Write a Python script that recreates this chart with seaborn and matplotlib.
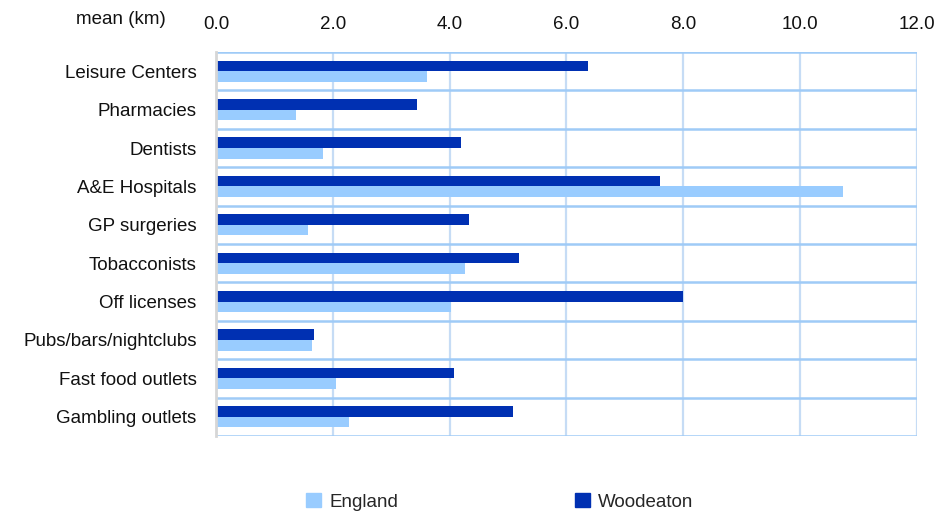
import matplotlib
matplotlib.use('Agg')

import matplotlib.pyplot as plt
import seaborn as sns
import pandas as pd
import numpy as np
from matplotlib.patches import Patch

# data
facilities = ["Leisure Centers", "Pharmacies", "Dentists", "A&E Hospitals", "GP surgeries",
              "Tobacconists", "Off licenses", "Pubs/bars/nightclubs", "Fast food outlets",
              "Gambling outlets"]
woodeaton = [6.37, 3.44, 4.19, 7.61, 4.33, 5.19, 8.00, 1.68, 4.07, 5.08]
england = [3.61, 1.37, 1.83, 10.74, 1.57, 4.26, 4.02, 1.65, 2.06, 2.27]
x_ticks = [0.0, 2.0, 4.0, 6.0, 8.0, 10.0, 12.0]

colors = {"Woodeaton": "#0030B2", "England": "#99CCFF"}

df = pd.DataFrame({
    "facility": facilities * 2,
    "km": woodeaton + england,
    "area": ["Woodeaton"] * len(facilities) + ["England"] * len(facilities),
})

sns.set_theme(style="white")
plt.rcParams['font.family'] = ['Liberation Sans', 'DejaVu Sans']

fig = plt.figure(figsize=(9.37, 5.14), dpi=100)
ax = fig.add_axes([0.2305, 0.1518, 0.748, 0.747])

sns.barplot(data=df, y="facility", x="km", hue="area", hue_order=["Woodeaton", "England"],
            order=facilities, palette=colors, orient="h", width=0.55, ax=ax, legend=False,
            saturation=1, linewidth=0)

ax.set_xlim(0, 12)
ax.set_ylim(len(facilities) - 0.5, -0.5)
ax.set_xticks(x_ticks)
ax.set_xticklabels([f"{t:.1f}" for t in x_ticks])
ax.xaxis.tick_top()
ax.tick_params(axis="x", length=0, pad=14, labelsize=13.5, colors="#111111")
ax.tick_params(axis="y", length=0, pad=14, labelsize=13.5, colors="#111111")
ax.set_xlabel("")
ax.set_ylabel("")

# gridlines: vertical at ticks, horizontal at category boundaries
ax.set_yticks(np.arange(-0.5, len(facilities), 1.0), minor=True)
ax.grid(axis="x", which="major", color="#C6DCF5", linewidth=1.6)
ax.grid(axis="y", which="minor", color="#9FCBF7", linewidth=1.8)
ax.grid(axis="y", which="major", visible=False)
ax.tick_params(axis="y", which="minor", length=0)
ax.set_axisbelow(True)

for side in ["top", "right", "bottom"]:
    ax.spines[side].set_visible(False)
ax.spines["left"].set_color("#D6D6D6")
ax.spines["left"].set_linewidth(2)
ax.spines["left"].set_zorder(3)

fig.text(0.129, 0.962, "mean (km)", ha="center", va="center", fontsize=13.5, color="#111111")

# legend at the bottom, England first
handles = [Patch(color=colors["England"]), Patch(color=colors["Woodeaton"])]
fig.legend(handles, ["England", "Woodeaton"], loc="center left", bbox_to_anchor=(0.327, 0.024),
           ncol=2, frameon=False, fontsize=13.5, handlelength=0.8, handleheight=0.8,
           handletextpad=0.45, columnspacing=9.4, borderpad=0, borderaxespad=0)

fig.savefig("out.png", dpi=100)
